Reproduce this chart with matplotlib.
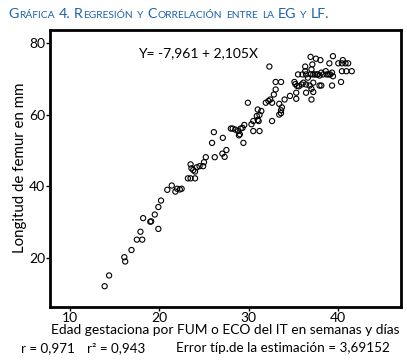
import matplotlib
matplotlib.use("Agg")
import matplotlib.pyplot as plt

# gestational age (weeks) vs femur length (mm)
edad = [13.9, 14.4, 16.1, 16.2, 16.9, 17.5, 18.1, 17.9, 18.2, 19.0, 19.1, 19.9,
        19.5, 19.9, 20.2, 20.9, 21.4, 21.8, 22.0, 22.3, 22.5,
        23.2, 23.5, 24.0, 23.5, 23.6, 23.8, 24.0, 24.2, 24.5, 24.9, 25.0, 25.2,
        26.2, 25.9, 26.1, 27.1, 27.05, 27.3, 27.5,
        28.0, 28.2, 28.5, 28.8, 29.1, 29.3, 29.5, 29.0, 28.9, 29.4, 29.9,
        30.5, 30.3, 31.0, 30.9, 31.2, 31.4, 31.0, 31.1, 30.5, 31.2,
        32.6, 31.9, 32.2, 32.4, 32.6, 32.8, 33.0, 33.0, 33.6, 32.3,
        33.4, 33.6, 33.7, 33.6, 33.4, 34.0, 34.6,
        35.1, 35.2, 35.4, 35.5, 35.3, 35.3,
        35.6, 35.9, 36.1, 36.4, 36.8, 37.2, 36.0, 36.3, 36.3, 36.4, 36.6, 36.9,
        37.2, 37.0, 37.1, 37.4, 37.6, 37.7, 37.9, 38.1, 38.3, 38.6, 38.7, 38.9,
        39.1, 39.3, 39.4,
        36.9, 37.5, 38.0, 39.4, 40.5, 40.4, 40.8, 41.1, 40.0, 39.0,
        40.4, 40.9, 41.5,
        37.0, 37.9, 38.1, 39.3, 40.3, 37.2, 36.4, 37.0]
femur = [12.1, 15.1, 20.2, 19.0, 22.2, 25.1, 25.1, 27.3, 31.1, 30.1, 30.2, 28.1,
         32.1, 34.2, 36.0, 39.0, 40.2, 38.5, 39.3, 39.1, 39.3,
         42.2, 42.2, 42.2, 46.1, 45.0, 44.5, 44.1, 45.3, 45.6, 45.6, 46.7, 48.1,
         48.1, 52.1, 55.1, 53.5, 49.1, 48.2, 50.1,
         56.1, 56.1, 55.8, 55.4, 56.1, 56.3, 57.1, 54.5, 54.2, 52.1, 63.3,
         58.2, 57.3, 61.4, 59.6, 59.9, 61.0, 58.5, 58.2, 55.4, 55.4,
         58.2, 63.3, 63.8, 64.2, 63.3, 65.6, 67.0, 69.1, 69.1, 73.4,
         63.0, 61.2, 62.0, 60.4, 60.0, 64.2, 65.2,
         69.1, 68.5, 68.0, 71.2, 66.1, 64.4,
         67.9, 68.4, 68.9, 68.4, 68.1, 68.9, 71.2, 72.1, 73.4, 71.2, 70.3, 71.2,
         71.2, 72.6, 74.0, 71.2, 71.2, 71.2, 70.9, 71.7, 71.2, 72.1, 71.2, 71.2,
         71.2, 71.7, 70.7,
         76.1, 75.6, 75.2, 76.3, 75.2, 74.3, 74.3, 74.3, 74.3, 74.3,
         72.1, 72.1, 72.1,
         64.2, 68.1, 68.1, 68.1, 69.1, 66.3, 66.1, 67.2]

x_ticks = [10, 20, 30, 40]
y_ticks = [20, 40, 60, 80]

title_parts = [("G", 1), ("RÁFICA", 0), (" ", 1), ("4.", 1), (" ", 1), ("R", 1),
               ("EGRESIÓN", 0), (" ", 1), ("Y", 0), (" ", 1), ("C", 1),
               ("ORRELACIÓN", 0), (" ", 1), ("ENTRE", 0), (" ", 1), ("LA", 0),
               (" ", 1), ("EG", 1), (" ", 1), ("Y", 0), (" ", 1), ("LF.", 1)]

plt.rcParams["font.family"] = ["Lato", "DejaVu Sans"]
W, H = 407, 363
fig = plt.figure(figsize=(W / 100, H / 100), dpi=100)
ax = fig.add_axes([50 / W, 1 - 307 / H, 351 / W, 277 / H])

ax.scatter(edad, femur, s=14, facecolors="none", edgecolors="black", linewidths=0.8)
ax.set_xlim(7.8, 47)
ax.set_ylim(6.3, 83.6)
ax.set_xticks(x_ticks)
ax.set_yticks(y_ticks)
ax.tick_params(direction="out", length=3, width=1, labelsize=10, pad=0.5)
for sp in ax.spines.values():
    sp.set_linewidth(2)

ax.text(0.25, 0.917, "Y= -7,961 + 2,105X", transform=ax.transAxes,
        fontsize=10, va="center", ha="left")

fig.text(225 / W, 1 - 330 / H, "Edad gestaciona por FUM o ECO del IT en semanas y días",
         ha="center", va="center", fontsize=9.9)
fig.text(20 / W, 1 - 168 / H, "Longitud de femur en mm", rotation=90,
         ha="center", va="center", fontsize=10.8)
fig.text(21 / W, 1 - 348 / H, "r = 0,971", va="center", fontsize=9.6)
fig.text(87 / W, 1 - 348 / H, "r² = 0,943", va="center", fontsize=9.6)
fig.text(176 / W, 1 - 348 / H, "Error típ.de la estimación = 3,69152", va="center", fontsize=9.7)

# small-caps title built piece by piece
renderer = fig.canvas.get_renderer()
xp = 8
for txt, big in title_parts:
    if txt == " ":
        xp += 3.6
        continue
    t = fig.text(xp / W, 1 - 17.5 / H, txt, fontsize=10.3 if big else 7.4,
                 color="#1d62ac", va="baseline")
    xp += t.get_window_extent(renderer).width + 0.4

fig.savefig("out.png", dpi=100)
